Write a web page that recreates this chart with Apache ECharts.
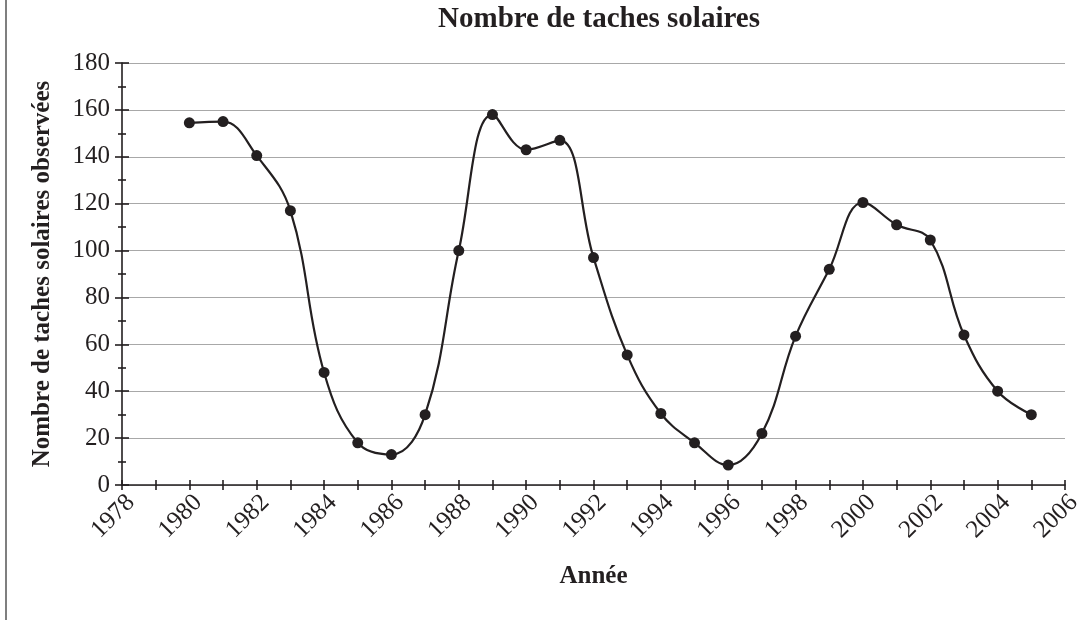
<!DOCTYPE html>
<html>
<head>
<meta charset="utf-8">
<script src="https://cdn.jsdelivr.net/npm/echarts@6/dist/echarts.min.js"></script>
<style>
  html, body { margin: 0; padding: 0; background: #fff; }
  #chart { width: 1079px; height: 620px; }
</style>
</head>
<body>
<div id="chart"></div>
<script>
// annees et nombre de taches
const years = [1980, 1981, 1982, 1983, 1984, 1985, 1986, 1987, 1988, 1989, 1990, 1991, 1992,
  1993, 1994, 1995, 1996, 1997, 1998, 1999, 2000, 2001, 2002, 2003, 2004, 2005]
const spots = [154.5, 155, 140.5, 117, 48, 18, 13, 30, 100, 158, 143, 147, 97,
  55.5, 30.5, 18, 8.5, 22, 63.5, 92, 120.5, 111, 104.5, 64, 40, 30]

const ink = '#231f20'
const font = '"Liberation Serif", "DejaVu Serif", serif'

let myChart = echarts.init(document.getElementById('chart'))

// deux axes superposes pour avoir des graduations qui traversent l'axe
function xAx(inside) {
  return {
    type: 'value',
    position: 'bottom',
    min: 1978,
    max: 2006,
    interval: 1,
    axisLine: { show: !inside, onZero: false, lineStyle: { color: ink, width: 1.6 } },
    axisTick: { show: true, inside: inside, length: 5, lineStyle: { color: ink, width: 1.6 } },
    splitLine: { show: false },
    axisLabel: {
      show: !inside,
      rotate: 45,
      margin: 5,
      align: 'right',
      verticalAlign: 'top',
      fontFamily: font,
      fontSize: 25,
      color: ink,
      formatter: v => (v % 2 === 0 ? String(v) : '')
    },
    name: inside ? '' : 'Année',
    nameLocation: 'middle',
    nameGap: 79,
    nameTextStyle: { fontFamily: font, fontSize: 25, fontWeight: 'bold', color: ink }
  }
}

function yAx(inside) {
  return {
    type: 'value',
    position: 'left',
    min: 0,
    max: 180,
    interval: 20,
    axisLine: { show: !inside, lineStyle: { color: ink, width: 1.6 } },
    axisTick: { show: true, inside: inside, length: 7, lineStyle: { color: ink, width: 1.6 } },
    minorTick: { show: true, splitNumber: 2, length: 4, lineStyle: { color: ink, width: 1.6 } },
    splitLine: { show: !inside, lineStyle: { color: '#a8a8a8', width: 1.2 } },
    axisLabel: {
      show: !inside,
      margin: 12,
      fontFamily: font,
      fontSize: 25,
      color: ink
    },
    name: inside ? '' : 'Nombre de taches solaires observées',
    nameLocation: 'middle',
    nameGap: 67,
    nameTextStyle: { fontFamily: font, fontSize: 25, fontWeight: 'bold', color: ink }
  }
}

myChart.setOption({
  animation: false,
  backgroundColor: '#fff',
  title: {
    text: 'Nombre de taches solaires',
    left: 594,
    textAlign: 'center',
    top: 0,
    textStyle: { fontFamily: font, fontSize: 29, fontWeight: 'bold', color: ink }
  },
  grid: { left: 122, right: 14, top: 63, bottom: 135, outerBoundsMode: 'none', containLabel: false },
  xAxis: [xAx(false), xAx(true)],
  yAxis: [yAx(false), yAx(true)],
  graphic: [
    {
      type: 'line',
      shape: { x1: 6, y1: 0, x2: 6, y2: 620 },
      style: { stroke: '#555', lineWidth: 1.5 }
    }
  ],
  series: [
    {
      type: 'line',
      data: years.map((y, i) => [y, spots[i]]),
      smooth: 0.4,
      symbol: 'circle',
      symbolSize: 11,
      itemStyle: { color: ink },
      lineStyle: { color: ink, width: 2.2 }
    }
  ]
})
</script>
</body>
</html>
